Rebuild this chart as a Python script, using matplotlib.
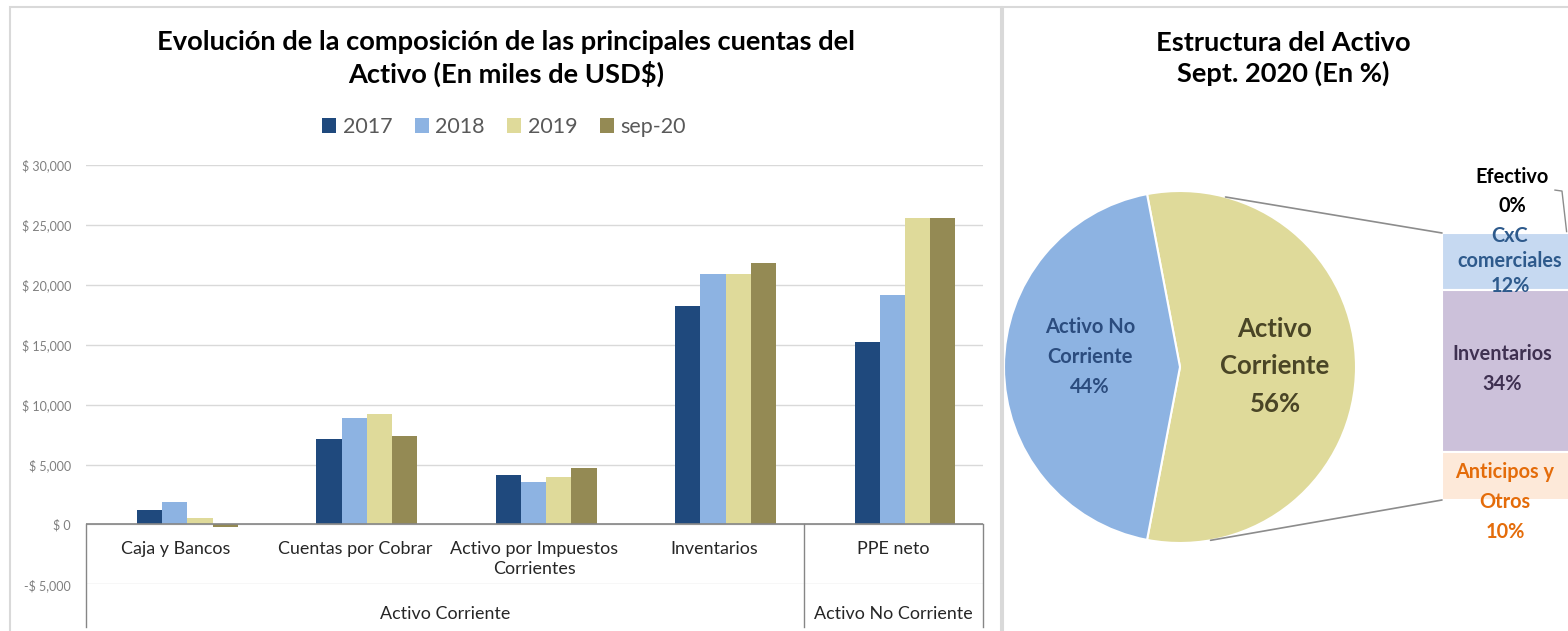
import matplotlib
matplotlib.use("Agg")
import matplotlib.pyplot as plt
from matplotlib.patches import Rectangle, ConnectionPatch
from matplotlib.ticker import FuncFormatter
import numpy as np

plt.rcParams['font.family'] = ['Lato', 'DejaVu Sans']

# ---------------- data ----------------
categories = ["Caja y Bancos", "Cuentas por Cobrar", "Activo por Impuestos\nCorrientes",
              "Inventarios", "PPE neto"]
groups = ["Activo Corriente", "Activo No Corriente"]
group_spans = [(0, 3), (4, 4)]
series_names = ["2017", "2018", "2019", "sep-20"]
v2017 = [1250, 7100, 4120, 18250, 15210]
v2018 = [1870, 8910, 3510, 20920, 19110]
v2019 = [500, 9220, 3960, 20920, 25540]
vsep20 = [-250, 7410, 4710, 21780, 25540]
yticks = [-5000, 0, 5000, 10000, 15000, 20000, 25000, 30000]

pie_labels = ["Activo\nCorriente", "Activo No\nCorriente"]
pie_values = [56, 44]
bar_labels = ["Efectivo", "CxC\ncomerciales", "Inventarios", "Anticipos y\nOtros"]
bar_values = [0, 12, 34, 10]

# ---------------- styles ----------------
series_colors = ['#1F497D', '#8DB3E2', '#DFDA9A', '#948A54']
pie_colors = ['#DFDA9A', '#8DB3E2']
bar_colors = ['#B9CDE5', '#C6D9F1', '#CCC1DA', '#FDE9D9']
bar_text_colors = ['#000000', '#2E5A8C', '#3F3151', '#E46C0A']

W, H = 1568, 631
fig = plt.figure(figsize=(W / 100, H / 100), dpi=100)


def fx(px):
    return px / W


def fy(py):
    return 1 - py / H


# panel borders
fig.add_artist(Rectangle((fx(10), -0.02), (1001 - 10) / W, (631 - 7) / H + 0.02,
                         transform=fig.transFigure, fill=False,
                         edgecolor='#D9D9D9', lw=1.5))
fig.add_artist(Rectangle((fx(1003), -0.02), 0.6, (631 - 7) / H + 0.02,
                         transform=fig.transFigure, fill=False,
                         edgecolor='#D9D9D9', lw=1.5))

# ---------------- left: clustered columns ----------------
ax = fig.add_axes([fx(86), fy(584.4), (983 - 86) / W, (584.4 - 165) / H])
x = np.arange(len(categories))
bw = 0.1405
off = 0.065
for j, (name, vals, c) in enumerate(zip(series_names, [v2017, v2018, v2019, vsep20],
                                        series_colors)):
    ax.bar(x + off + (j - 1.5) * bw, vals, bw, color=c, label=name, zorder=3)

ax.set_xlim(-0.5, len(categories) - 0.5)
ax.set_ylim(-5000, 30000)
ax.set_yticks(yticks)
ax.yaxis.set_major_formatter(FuncFormatter(
    lambda v, p: f"$ {v:,.0f}" if v >= 0 else f"-$ {abs(v):,.0f}"))
ax.tick_params(axis='y', length=0, pad=10.8, labelsize=9, labelcolor='#7F7F7F')
ax.set_xticks([])
ax.grid(axis='y', color='#D9D9D9', lw=1, zorder=0)
for s in ax.spines.values():
    s.set_visible(False)
ax.axhline(0, color='#868686', lw=1.2, zorder=4)

y_box_bottom = -8550
for xv in [-0.5, 3.5, 4.5]:
    ax.plot([xv, xv], [0, y_box_bottom], color='#868686', lw=1, clip_on=False, zorder=4)

for i, cat in enumerate(categories):
    ax.text(i, -1400, cat, ha='center', va='top', fontsize=12.9, color='#262626',
            linespacing=1.3, clip_on=False)
for g, (a, b) in zip(groups, group_spans):
    ax.text((a + b) / 2, -7470, g, ha='center', va='center', fontsize=12.9,
            color='#262626', clip_on=False)

fig.text(fx(506), fy(58.5),
         "Evolución de la composición de las principales cuentas del\nActivo (En miles de USD$)",
         ha='center', va='center', fontsize=19.6, fontweight='bold', color='#000000',
         linespacing=1.3)

ax.legend(ncol=4, loc='center', bbox_to_anchor=(fx(504), fy(127)),
          bbox_transform=fig.transFigure, frameon=False, fontsize=15.5,
          handlelength=0.65, handleheight=0.65, handletextpad=0.3,
          columnspacing=1.05, labelcolor='#595959', borderaxespad=0)

# ---------------- right: bar of pie ----------------
fig.text(fx(1283), fy(58.5), "Estructura del Activo\nSept. 2020 (En %)",
         ha='center', va='center', fontsize=19.6, fontweight='bold', color='#000000',
         linespacing=1.3)

R = 176
cx, cy = 1180, 367
half = 1.1 * R
axp = fig.add_axes([fx(cx - half), fy(cy + half), 2 * half / W, 2 * half / H])
axp.pie(pie_values, colors=pie_colors, startangle=-pie_values[0] / 100 * 180,
        counterclock=True, wedgeprops=dict(edgecolor='white', linewidth=1.5))
axp.set_xlim(-1.1, 1.1)
axp.set_ylim(-1.1, 1.1)
axp.set_aspect('equal')
axp.axis('off')

axp.text(0.54, 0.005, f"{pie_labels[0]}\n{pie_values[0]}%", ha='center', va='center',
         fontsize=18.5, fontweight='bold', color='#4A4526', linespacing=1.68)
axp.text(-0.511, 0.057, f"{pie_labels[1]}\n{pie_values[1]}%", ha='center', va='center',
         fontsize=14.5, fontweight='bold', color='#2B4C7E', linespacing=1.6)

# stacked bar
axb = fig.add_axes([fx(1442), fy(500), 140 / W, 267 / H])
cum = 0
for v, c in zip(bar_values, bar_colors):
    axb.bar(0, v, bottom=cum, width=1, color=c, edgecolor='white', linewidth=1.5)
    cum += v
axb.set_xlim(-0.5, 0.5)
axb.set_ylim(sum(bar_values), 0)
axb.axis('off')

label_pos = [(0.0, -8.7, 1.6), (-0.014, 5.9, 1.3), (-0.071, 28.5, 1.65), (-0.05, 56.4, 1.6)]
for lab, v, tc, (lx, ly, ls) in zip(bar_labels, bar_values, bar_text_colors, label_pos):
    axb.text(lx, ly, f"{lab}\n{v}%", ha='center', va='center', fontsize=14.3,
             fontweight='bold', color=tc, linespacing=ls, clip_on=False)

axb.plot([0.307, 0.357, 0.39], [-9.0, -8.8, -0.3], color='#8C8C8C', lw=1, clip_on=False)

# connector lines
for ang, yb in [(75, 0), (-80, sum(bar_values))]:
    cp = ConnectionPatch(xyA=(np.cos(np.radians(ang)), np.sin(np.radians(ang))),
                         coordsA=axp.transData, xyB=(-0.5, yb), coordsB=axb.transData,
                         color='#8C8C8C', lw=1.2)
    fig.add_artist(cp)

fig.savefig("out.png", dpi=100)
